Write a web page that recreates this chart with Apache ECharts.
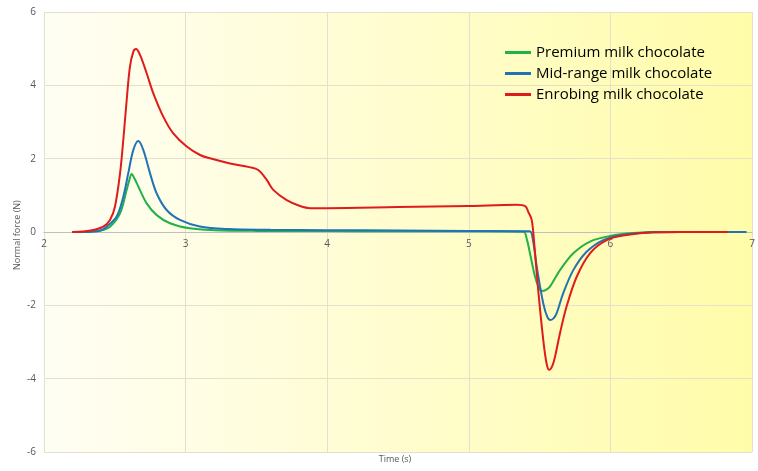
<!DOCTYPE html>
<html><head><meta charset="utf-8">
<script src="https://cdn.jsdelivr.net/npm/echarts@6/dist/echarts.min.js"></script>
<style>html,body{margin:0;padding:0;background:#fff}#c{width:758px;height:471px}</style>
</head><body><div id="c"></div>
<script>
var seriesNames = ["Premium milk chocolate", "Mid-range milk chocolate", "Enrobing milk chocolate"];
var xTicks = [2, 3, 4, 5, 6, 7];
var yTicks = [-6, -4, -2, 0, 2, 4, 6];

var premium = [[2.20,0],[2.33,0.01],[2.40,0.04],[2.466,0.145],[2.537,0.51],[2.584,1.15],[2.605,1.45],[2.619,1.58],[2.64,1.45],[2.666,1.24],[2.725,0.78],[2.796,0.46],[2.89,0.24],[3.03,0.1],[3.2,0.05],[3.5,0.03],[4.0,0.025],[4.5,0.02],[5.0,0.02],[5.385,0.01],[5.41,-0.2],[5.432,-0.58],[5.468,-1.22],[5.495,-1.52],[5.519,-1.61],[5.545,-1.58],[5.573,-1.49],[5.644,-1.04],[5.738,-0.58],[5.856,-0.26],[5.997,-0.11],[6.16,-0.03],[6.35,0],[6.96,0]];
var midrange = [[2.20,0],[2.33,0.01],[2.40,0.04],[2.443,0.145],[2.513,0.42],[2.56,0.96],[2.595,1.6],[2.631,2.24],[2.666,2.48],[2.701,2.24],[2.749,1.6],[2.796,1.05],[2.866,0.6],[2.96,0.33],[3.10,0.15],[3.3,0.08],[3.6,0.06],[4.0,0.05],[4.5,0.04],[5.0,0.03],[5.43,0.02],[5.45,-0.15],[5.48,-0.95],[5.526,-1.95],[5.555,-2.32],[5.578,-2.4],[5.60,-2.35],[5.62,-2.22],[5.667,-1.67],[5.738,-1.04],[5.832,-0.54],[5.95,-0.22],[6.09,-0.08],[6.3,-0.01],[6.5,0],[6.96,0]];
var enrobing = [[2.20,0],[2.33,0.04],[2.419,0.145],[2.466,0.33],[2.501,0.69],[2.537,1.6],[2.56,2.51],[2.584,3.6],[2.607,4.51],[2.631,4.92],[2.65,4.99],[2.678,4.83],[2.725,4.33],[2.772,3.78],[2.843,3.14],[2.913,2.69],[3.008,2.33],[3.102,2.1],[3.172,2.01],[3.314,1.87],[3.45,1.77],[3.513,1.69],[3.573,1.42],[3.619,1.15],[3.714,0.87],[3.808,0.71],[3.879,0.65],[4.0,0.65],[4.5,0.68],[5.0,0.71],[5.34,0.74],[5.40,0.7],[5.42,0.55],[5.444,0.33],[5.46,-0.22],[5.49,-1.58],[5.526,-2.95],[5.55,-3.6],[5.568,-3.76],[5.59,-3.65],[5.609,-3.4],[5.644,-2.76],[5.69,-2.04],[5.762,-1.22],[5.856,-0.58],[5.974,-0.22],[6.115,-0.08],[6.3,-0.01],[6.5,0],[6.83,0]];

var colors = ["#22B04B", "#2173B5", "#E01B1B"];
var chart = echarts.init(document.getElementById('c'));
var font = "'Open Sans', 'Liberation Sans', sans-serif";
function mk(name, data, color) {
  return {
    name: name, type: 'line', data: data, showSymbol: false, symbol: 'none',
    smooth: 0.35,
    lineStyle: { color: color, width: 2 }, itemStyle: { color: color }
  };
}
chart.setOption({
  animation: false,
  backgroundColor: '#ffffff',
  grid: {
    left: 44, right: 6, top: 12, bottom: 19, show: true, borderWidth: 0,
    backgroundColor: new echarts.graphic.LinearGradient(0, 0, 1, 0, [
      { offset: 0, color: '#FFFEF4' }, { offset: 1, color: '#FFFCA9' }
    ])
  },
  legend: {
    orient: 'vertical', left: 500, top: 40, itemGap: 6, itemWidth: 26, itemHeight: 3,
    icon: 'rect', data: seriesNames,
    textStyle: { fontSize: 15, color: '#000', fontFamily: font }
  },
  graphic: [
    { type: 'text', x: 395, y: 455, style: { text: 'Time (s)', fontSize: 9, fill: '#595959', fontFamily: font, align: 'center' } },
    { type: 'text', x: 13, y: 270, rotation: Math.PI / 2, style: { text: 'Normal force (N)', fontSize: 9, fill: '#595959', fontFamily: font } }
  ],
  xAxis: {
    type: 'value', min: xTicks[0], max: xTicks[xTicks.length - 1], interval: 1,
    offset: -220,
    axisLine: { onZero: false, lineStyle: { color: '#BFBFBF', width: 1 } },
    axisTick: { show: false },
    axisLabel: { color: '#595959', fontSize: 10, margin: 7, fontFamily: font },
    splitLine: { show: true, lineStyle: { color: '#E3E1CC', width: 1 } }
  },
  yAxis: {
    type: 'value', min: yTicks[0], max: yTicks[yTicks.length - 1], interval: 2,
    axisLine: { show: false }, axisTick: { show: false },
    axisLabel: { color: '#595959', fontSize: 10, margin: 8, fontFamily: font },
    splitLine: { show: true, lineStyle: { color: '#E3E1CC', width: 1 } }
  },
  series: [mk(seriesNames[0], premium, colors[0]), mk(seriesNames[1], midrange, colors[1]), mk(seriesNames[2], enrobing, colors[2])]
});
</script></body></html>
